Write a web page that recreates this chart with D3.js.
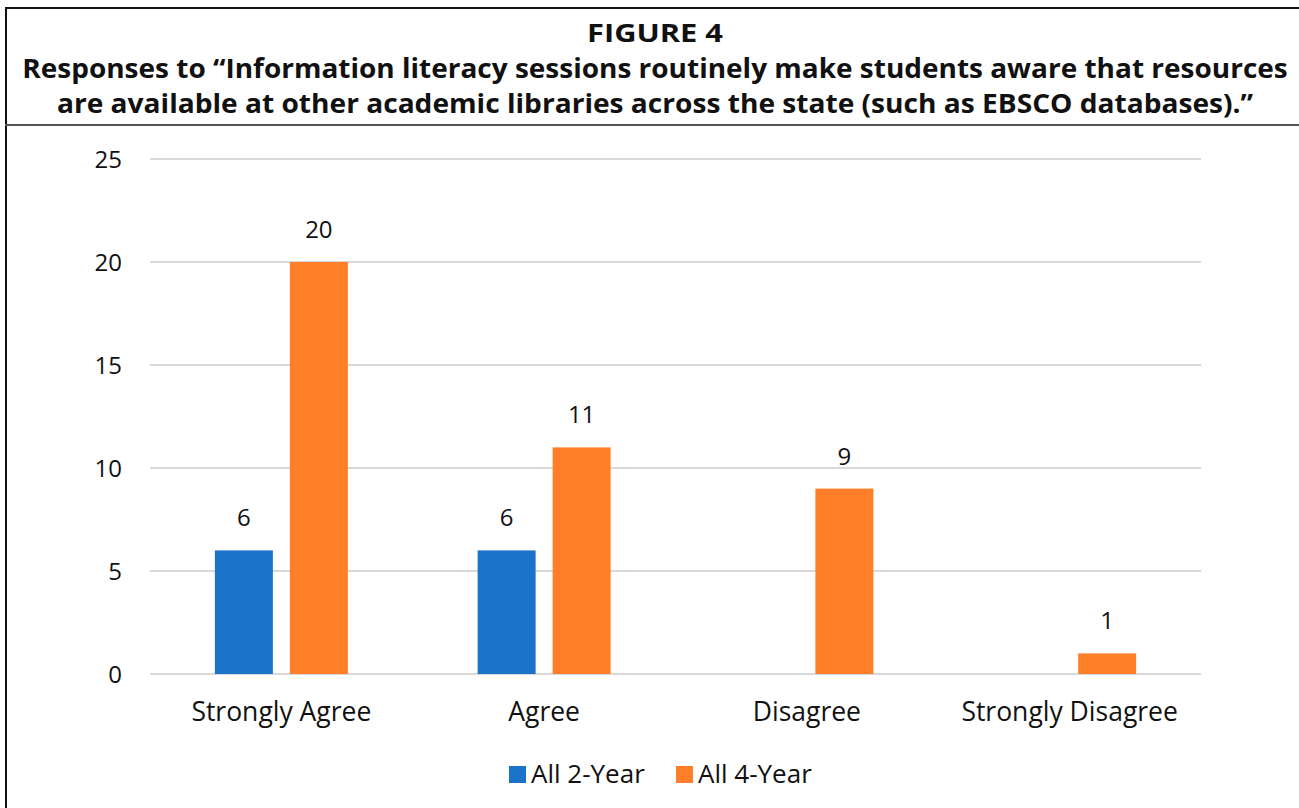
<!DOCTYPE html>
<html>
<head>
<meta charset="utf-8">
<script src="https://cdn.jsdelivr.net/npm/d3@7"></script>
<style>
  body { margin: 0; background: #fff; }
  text { font-family: "Open Sans", "Noto Sans", sans-serif; }
</style>
</head>
<body>
<script>
const categories = ["Strongly Agree", "Agree", "Disagree", "Strongly Disagree"];
const seriesNames = ["All 2-Year", "All 4-Year"];
const twoYear = [6, 6, null, null];
const fourYear = [20, 11, 9, 1];
const yTicks = [0, 5, 10, 15, 20, 25];
const titleLines = [
  "FIGURE 4",
  "Responses to \u201cInformation literacy sessions routinely make students aware that resources",
  "are available at other academic libraries across the state (such as EBSCO databases).\u201d"
];

const width = 1299,
      height = 808;
const colors = ["#1a73c8", "#fe7f27"];

const svg = d3.select("body")
    .append("svg")
    .attr("width", width)
    .attr("height", height);

// frame
svg.append("line").attr("x1", 6).attr("x2", 6).attr("y1", 7).attr("y2", height)
    .attr("stroke", "#111").attr("stroke-width", 2);
svg.append("line").attr("x1", 5).attr("x2", width).attr("y1", 8).attr("y2", 8)
    .attr("stroke", "#111").attr("stroke-width", 2);
svg.append("line").attr("x1", 5).attr("x2", width).attr("y1", 125).attr("y2", 125)
    .attr("stroke", "#555").attr("stroke-width", 2);

// titles: condensed look by squeezing the text horizontally to the measured width
const titleSpec = [
  { y: 42, size: 24.5, len: 136 },
  { y: 78, size: 27.5, len: 1266 },
  { y: 113, size: 27.5, len: 1197 }
];
svg.selectAll("g.title")
  .data(titleLines)
  .enter().append("g")
    .attr("class", "title")
    .each(function(d, i) {
      const spec = titleSpec[i];
      const t = d3.select(this).append("text")
          .attr("text-anchor", "middle")
          .attr("font-weight", "bold")
          .attr("font-size", spec.size)
          .attr("fill", "#111")
          .text(d);
      const w = t.node().getComputedTextLength();
      d3.select(this).attr("transform", `translate(655,${spec.y}) scale(${spec.len / w},1)`);
    });

const margin = { left: 150, right: 98, top: 159, bottom: 134 };
const x = d3.scaleBand()
    .domain(categories)
    .range([margin.left, width - margin.right])
    .paddingInner(0)
    .paddingOuter(0);

const x1 = d3.scaleBand()
    .domain(seriesNames)
    .range([0, x.bandwidth()])
    .paddingInner(0.227)
    .paddingOuter(0.865);

const y = d3.scaleLinear()
    .domain([0, 25])
    .range([height - margin.bottom, margin.top]);

// gridlines
svg.append("g")
  .selectAll("line")
  .data(yTicks)
  .enter().append("line")
    .attr("x1", margin.left)
    .attr("x2", width - margin.right)
    .attr("y1", d => y(d))
    .attr("y2", d => y(d))
    .attr("stroke", "#d9d9d9")
    .attr("stroke-width", 2);

// y labels
svg.append("g")
  .selectAll("text")
  .data(yTicks)
  .enter().append("text")
    .attr("x", 122)
    .attr("y", d => y(d) + 9)
    .attr("text-anchor", "end")
    .attr("font-size", 24)
    .attr("fill", "#111")
    .text(d => d);

const rows = categories.map((c, i) => ({
  cat: c,
  vals: [twoYear[i], fourYear[i]]
}));

const groups = svg.append("g")
  .selectAll("g")
  .data(rows)
  .enter().append("g")
    .attr("transform", d => `translate(${x(d.cat)},0)`);

const bars = groups.selectAll("g")
  .data(d => d.vals.map((v, j) => ({ v, s: seriesNames[j], j })).filter(e => e.v != null))
  .enter().append("g");

bars.append("rect")
    .attr("x", d => x1(d.s))
    .attr("width", x1.bandwidth())
    .attr("y", d => y(d.v))
    .attr("height", d => y(0) - y(d.v))
    .attr("fill", d => colors[d.j]);

bars.append("text")
    .attr("x", d => x1(d.s) + x1.bandwidth() / 2)
    .attr("y", d => y(d.v) - 24)
    .attr("text-anchor", "middle")
    .attr("font-size", 24)
    .attr("fill", "#111")
    .text(d => d.v);

// category labels
svg.append("g")
  .selectAll("text")
  .data(categories)
  .enter().append("text")
    .attr("x", d => x(d) + x.bandwidth() / 2)
    .attr("y", 721)
    .attr("text-anchor", "middle")
    .attr("font-size", 26.5)
    .attr("fill", "#111")
    .text(d => d);

// legend
const legendX = [509, 676];
const legend = svg.append("g")
  .selectAll("g")
  .data(seriesNames)
  .enter().append("g")
    .attr("transform", (d, i) => `translate(${legendX[i]},766)`);

legend.append("rect")
    .attr("width", 17)
    .attr("height", 17)
    .attr("fill", (d, i) => colors[i]);

legend.append("text")
    .attr("x", 22)
    .attr("y", 17)
    .attr("font-size", 26)
    .attr("fill", "#111")
    .text(d => d);
</script>
</body>
</html>
